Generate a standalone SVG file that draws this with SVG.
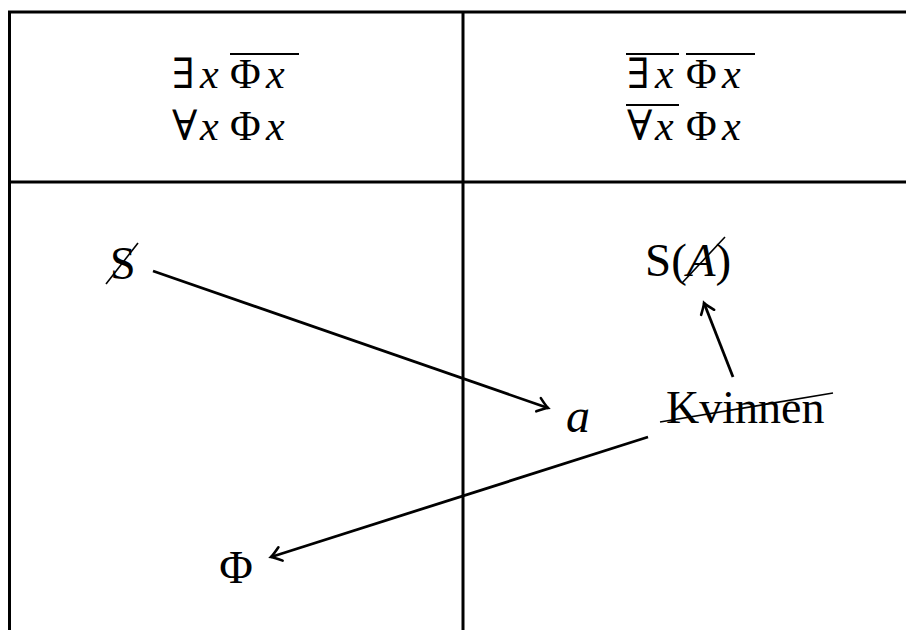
<svg xmlns="http://www.w3.org/2000/svg" width="906" height="630" viewBox="0 0 906 630">
<style>
.t{font-family:"Liberation Serif","DejaVu Serif",serif;fill:#000}
.h{font-family:"Liberation Serif","DejaVu Serif",serif;fill:#000;font-size:42px}
.i{font-style:italic}
.grid{stroke:#000;stroke-width:3;fill:none}
.ln{stroke:#000;stroke-width:2.8;fill:none}
.st{stroke:#000;stroke-width:1.6;fill:none}
.ov{stroke:#000;stroke-width:1.8}
</style>
<defs>
<marker id="ah" markerUnits="userSpaceOnUse" markerWidth="20" markerHeight="20" viewBox="-12 -10 14 20" refX="0" refY="0" orient="auto">
<path d="M -10 -7 Q -3 -1.5 0 0 Q -3 1.5 -10 7" fill="none" stroke="#000" stroke-width="2.6" stroke-linecap="round"/>
</marker>
</defs>
<g id="table">
<path class="grid" d="M 8 12 H 906 M 9.5 12 V 630 M 463 12 V 630 M 8 182 H 906"/>
</g>
<g id="header-left">
<text class="h" x="172" y="88">∃</text><text class="h i" x="200" y="88">x</text>
<text class="h" x="230" y="88">Φ</text><text class="h i" x="266" y="88">x</text>
<line class="ov" x1="230" y1="54" x2="299" y2="54"/>
<text class="h" x="172" y="140">∀</text><text class="h i" x="200" y="140">x</text>
<text class="h" x="230" y="140">Φ</text><text class="h i" x="266" y="140">x</text>
</g>
<g id="header-right">
<text class="h" x="627" y="88">∃</text><text class="h i" x="655" y="88">x</text>
<line class="ov" x1="626" y1="54" x2="679" y2="54"/>
<text class="h" x="686" y="88">Φ</text><text class="h i" x="722" y="88">x</text>
<line class="ov" x1="686" y1="54" x2="755" y2="54"/>
<text class="h" x="627" y="140">∀</text><text class="h i" x="655" y="140">x</text>
<line class="ov" x1="626" y1="105" x2="679" y2="105"/>
<text class="h" x="686" y="140">Φ</text><text class="h i" x="722" y="140">x</text>
</g>
<g id="connectors">
<line class="ln" x1="153" y1="271" x2="548" y2="408" marker-end="url(#ah)"/>
<line class="ln" x1="733" y1="377" x2="704" y2="303" marker-end="url(#ah)"/>
<line class="ln" x1="648" y1="437" x2="271" y2="557" marker-end="url(#ah)"/>
</g>
<g id="node-S">
<text class="t" x="110" y="279" font-size="46">S</text>
<line class="st" x1="106" y1="284" x2="138" y2="243"/>
</g>
<g id="node-SA">
<text class="t" x="645" y="276" font-size="47">S(<tspan class="i">A</tspan>)</text>
<line class="st" x1="682" y1="283" x2="725" y2="237"/>
</g>
<g id="node-a">
<text class="t i" x="566" y="432" font-size="48">a</text>
</g>
<g id="node-Kvinnen">
<text class="t" x="666" y="423" font-size="46">Kvinnen</text>
<line class="st" x1="660" y1="422" x2="833" y2="393"/>
</g>
<g id="node-Phi">
<text class="t" x="236" y="583" font-size="46" text-anchor="middle">Φ</text>
</g>
</svg>
